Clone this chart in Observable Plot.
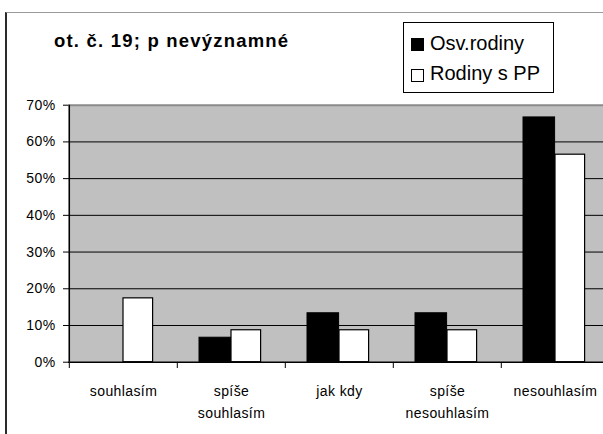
<!DOCTYPE html>
<html><head><meta charset="utf-8">
<script src="https://cdn.jsdelivr.net/npm/d3@7"></script>
<script src="https://cdn.jsdelivr.net/npm/@observablehq/plot@0.6"></script>
<style>
html,body{margin:0;padding:0;background:#fff;overflow:hidden}
#wrap{position:relative;width:603px;height:434px;overflow:hidden;font-family:"Liberation Sans",Arial,sans-serif}
#chart{position:absolute;left:0;top:0}
#frame{position:absolute;left:5px;top:12px;width:700px;height:500px;border-left:2px solid #2b2b2b;border-top:1.5px solid #9a9a9a;pointer-events:none}
#overlay{position:absolute;left:0;top:0}
</style></head><body>
<div id="wrap"><div id="chart"></div><div id="frame"></div><svg id="overlay" width="603" height="434"></svg></div>
<script>
const categories = ["souhlasím", "spíše souhlasím", "jak kdy", "spíše nesouhlasím", "nesouhlasím"];
const categoryLabels = ["souhlasím", "spíše\nsouhlasím", "jak kdy", "spíše\nnesouhlasím", "nesouhlasím"];
const seriesNames = ["Osv.rodiny", "Rodiny s PP"];
const osvRodiny = [0, 6.67, 13.33, 13.33, 66.67];
const rodinySPP = [17.39, 8.70, 8.70, 8.70, 56.52];
const yTicks = [0, 10, 20, 30, 40, 50, 60, 70];
const gridValues = [10, 20, 30, 40, 50, 60];
const chartTitle = "ot. č. 19; p nevýznamné";

const xRange = [67.5, 609.5];
const bw = (xRange[1] - xRange[0]) / categories.length;

const dataA = categories.map((c, i) => ({category: c, value: osvRodiny[i]}));
const dataB = categories.map((c, i) => ({category: c, value: rodinySPP[i]}));

const plot = Plot.plot({
  width: 603,
  height: 434,
  marginLeft: 68,
  marginRight: 0,
  marginTop: 105,
  marginBottom: 72,
  style: {fontFamily: "'Liberation Sans', Arial, sans-serif", fontSize: "14px", color: "black", background: "transparent"},
  x: {type: "band", domain: categories, range: xRange, padding: 0, label: null},
  y: {domain: [0, 70], range: [361.7, 104.7], label: null},
  marks: [
    Plot.frame({fill: "#c0c0c0", stroke: null}),
    Plot.ruleY(gridValues, {stroke: "black", strokeWidth: 1}),
    Plot.ruleY([70], {stroke: "#8a8a8a", strokeWidth: 2}),
    Plot.barY(dataA, {x: "category", y: "value", fill: "black", stroke: "black", strokeWidth: 1, insetLeft: 22, insetRight: bw - 54}),
    Plot.barY(dataB, {x: "category", y: "value", fill: "white", stroke: "black", strokeWidth: 1.2, insetLeft: 54, insetRight: bw - 84}),
    Plot.ruleY([0], {stroke: "black", strokeWidth: 1.5}),
    Plot.ruleX([categories[0]], {y1: 0, y2: 70, dx: -bw / 2, stroke: "black", strokeWidth: 1.5}),
    Plot.axisY({ticks: yTicks, tickFormat: d => d + "%", tickSize: 5, tickPadding: 8, fontSize: 14, stroke: "black", fill: "black", label: null}),
    Plot.axisX({tickSize: 6, tickFormat: () => "", dx: -bw / 2, stroke: "black", label: null}),
    Plot.axisX({tickSize: 0, tickPadding: 18, lineHeight: 1.55, fontSize: 14, fill: "black", label: null,
      tickFormat: d => categoryLabels[categories.indexOf(d)]})
  ]
});
plot.style.letterSpacing = "0.4px";
document.getElementById("chart").appendChild(plot);

// title and legend overlay
const ov = d3.select("#overlay");
ov.append("text").attr("x", 54).attr("y", 47)
  .attr("font-family", "'Liberation Sans', Arial, sans-serif")
  .attr("font-weight", "bold").attr("font-size", 18.5).attr("letter-spacing", "1.2px")
  .attr("fill", "black").text(chartTitle);
const lg = ov.append("g");
lg.append("rect").attr("x", 403.5).attr("y", 22.5).attr("width", 150).attr("height", 70)
  .attr("fill", "white").attr("stroke", "black").attr("stroke-width", 1);
const fills = ["black", "white"];
seriesNames.forEach((name, i) => {
  lg.append("rect").attr("x", 411.5).attr("y", 38.5 + i * 31).attr("width", 12).attr("height", 12)
    .attr("fill", fills[i]).attr("stroke", "black").attr("stroke-width", 1);
  lg.append("text").attr("x", 430).attr("y", 50 + i * 30)
    .attr("font-family", "'Liberation Sans', Arial, sans-serif").attr("font-size", 20)
    .attr("fill", "black").text(name);
});
</script>
</body></html>
